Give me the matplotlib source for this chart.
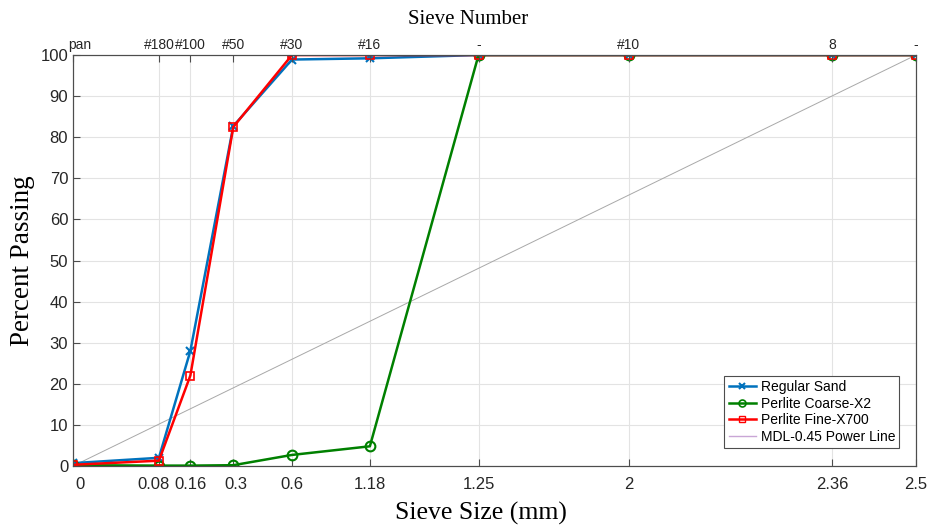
import numpy as np
import matplotlib
matplotlib.use("Agg")
import matplotlib.pyplot as plt
import matplotlib.transforms as mtransforms
from matplotlib.lines import Line2D

# Sieve openings (mm) used for the 0.45 power scale
sieve_mm = [0, 0.075, 0.15, 0.3, 0.6, 1.18, 2.36, 4.75, 9.5, 12.0]
size_labels = ["0", "0.08", "0.16", "0.3", "0.6", "1.18", "1.25", "2", "2.36", "2.5"]
number_labels = ["pan", "#180", "#100", "#50", "#30", "#16", "-", "#10", "8", "-"]

# Percent passing
regular_sand = [0.7, 2.0, 28.0, 82.7, 98.9, 99.2, 100, 100, 100, 100]
perlite_coarse = [0.2, 0.1, 0.1, 0.2, 2.7, 4.8, 100, 100, 100, 100]
perlite_fine = [0.3, 1.3, 22.0, 82.5, 100, 100, 100, 100, 100, 100]

# MDL power line end points
mdl_x = [0, 12.0]
mdl_y = [0, 100]


def fwd(x):
    x = np.asarray(x, dtype=float)
    return np.sign(x) * np.abs(x) ** 0.45


def inv(y):
    y = np.asarray(y, dtype=float)
    return np.sign(y) * np.abs(y) ** (1 / 0.45)


plt.rcParams["font.family"] = ["Liberation Sans", "DejaVu Sans"]

fig = plt.figure(figsize=(9.3, 5.27), dpi=100)
ax = fig.add_axes([0.0785, 0.1157, 0.9065, 0.7799])
ax.set_xscale("function", functions=(fwd, inv))

ax.plot(mdl_x, mdl_y, color="#a8a8a8", lw=0.7, zorder=2)
ax.plot(sieve_mm, regular_sand, color="#0072BD", lw=1.8, marker="x", ms=6,
        mew=1.5, zorder=3)
ax.plot(sieve_mm, perlite_coarse, color="#008000", lw=1.8, marker="o", ms=7,
        mfc="none", mew=1.5, zorder=3)
ax.plot(sieve_mm, perlite_fine, color="#FF0000", lw=1.8, marker="s", ms=6,
        mfc="none", mew=1.2, zorder=4)

ax.set_xlim(0, 12.0)
ax.set_ylim(0, 100)
ax.set_xticks(sieve_mm)
ax.set_xticklabels(size_labels)
ax.set_yticks(range(0, 101, 10))
ax.minorticks_off()

ax.grid(True, color="#e3e3e3", lw=0.8)
ax.set_axisbelow(True)
ax.tick_params(direction="in", length=5, colors="#4d4d4d", labelcolor="#262626",
               labelsize=12)
ax.tick_params(axis="x", pad=8)
for s in ax.spines.values():
    s.set_color("#4d4d4d")
    s.set_linewidth(0.8)

top = ax.twiny()
top.set_xscale("function", functions=(fwd, inv))
top.set_xlim(ax.get_xlim())
top.set_xticks(sieve_mm)
top.set_xticklabels(number_labels)
top.minorticks_off()
top.tick_params(direction="in", length=5, colors="#4d4d4d", labelcolor="#262626",
                labelsize=10, pad=2)
top.set_xlabel("Sieve Number", fontfamily="Liberation Serif", fontsize=15,
               labelpad=9)
top.xaxis.set_label_coords(0.469, 1.075)
for s in top.spines.values():
    s.set_color("#4d4d4d")
    s.set_linewidth(0.8)

# nudge crowded labels like the original
def nudge(label, dx):
    label.set_transform(label.get_transform() +
                        mtransforms.ScaledTranslation(dx / 72, 0, fig.dpi_scale_trans))

bottom_lbls = ax.get_xticklabels()
nudge(bottom_lbls[0], 5)
nudge(bottom_lbls[1], -4)
nudge(bottom_lbls[3], 2)
top_lbls = top.get_xticklabels()
nudge(top_lbls[0], 5)

ax.set_xlabel("Sieve Size (mm)", fontfamily="Liberation Serif", fontsize=18.5)
ax.xaxis.set_label_coords(0.484, -0.088)
ax.set_ylabel("Percent Passing", fontfamily="Liberation Serif", fontsize=19.5,
              labelpad=4)

handles = [
    Line2D([], [], color="#0072BD", lw=1.8, marker="x", ms=5, mew=1.5),
    Line2D([], [], color="#008000", lw=1.8, marker="o", ms=5, mfc="none", mew=1.2),
    Line2D([], [], color="#FF0000", lw=1.8, marker="s", ms=4, mfc="none", mew=1.0),
    Line2D([], [], color="#c9a6d6", lw=1),
]
leg = ax.legend(handles, ["Regular Sand", "Perlite Coarse-X2", "Perlite Fine-X700",
                          "MDL-0.45 Power Line"],
                loc="lower right", bbox_to_anchor=(0.98, 0.044), fontsize=10,
                fancybox=False, framealpha=1, edgecolor="#4d4d4d",
                handlelength=2.0, handletextpad=0.3, borderpad=0.3,
                labelspacing=0.18, borderaxespad=0)
leg.get_frame().set_linewidth(0.8)

fig.savefig("out.png", dpi=100)
